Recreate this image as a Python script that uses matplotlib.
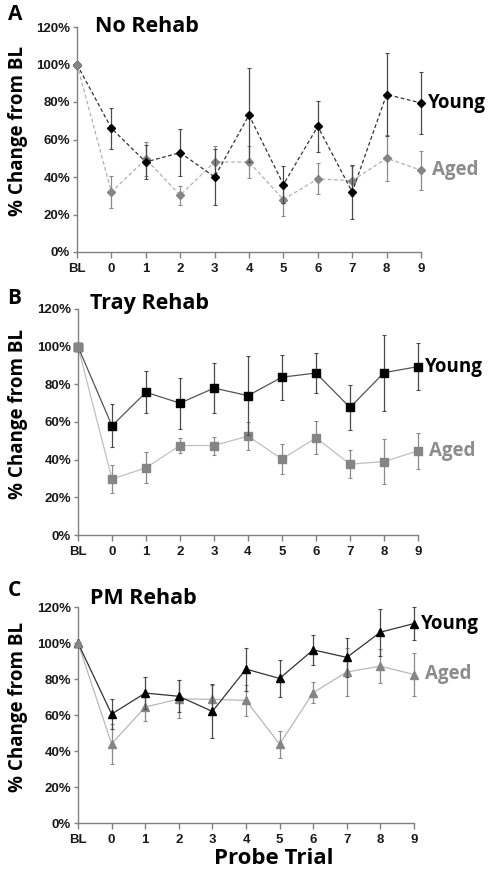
import matplotlib
matplotlib.use('Agg')
import matplotlib.pyplot as plt
from matplotlib.ticker import PercentFormatter

# Probe trials (BL = baseline)
trials = ['BL', '0', '1', '2', '3', '4', '5', '6', '7', '8', '9']

# A - No Rehab
no_young = [100, 66, 48, 53, 40, 73, 36, 67, 32, 84, 79.5]
no_young_err = [0, 11, 9, 12.5, 15, 25, 10, 13.7, 14.5, 22, 16.7]
no_aged = [100, 32, 49.5, 30.3, 48, 48, 28, 39, 38, 50, 43.6]
no_aged_err = [0, 8.5, 9, 5, 8.5, 8.5, 8.7, 8.3, 8, 12.3, 10.4]

# B - Tray Rehab
tray_young = [100, 58, 75.8, 70, 78, 74, 83.8, 86, 67.7, 86.2, 89.4]
tray_young_err = [0, 11.3, 11.2, 13.6, 13.4, 21, 12, 10.5, 11.8, 20.2, 12.4]
tray_aged = [100, 29.7, 35.7, 47.5, 47.5, 52.5, 40.3, 51.6, 37.6, 39, 44.7]
tray_aged_err = [0, 7.5, 8.2, 4, 4.8, 7.5, 8, 8.8, 7.5, 11.8, 9.4]

# C - PM Rehab
pm_young = [100, 60.5, 72.2, 70.4, 62, 85.5, 80.3, 96.2, 92, 106, 110.8]
pm_young_err = [0, 8.4, 9, 9, 15, 12, 10.3, 8.5, 11, 13, 9.2]
pm_aged = [100, 44, 64.4, 68.9, 68.7, 68.1, 43.8, 72.4, 83.9, 87.1, 82.5]
pm_aged_err = [0, 11, 7.6, 10.6, 8, 8.8, 7.5, 5.8, 13.5, 9.5, 12]

W, H = 494, 883
fig = plt.figure(figsize=(W / 100, H / 100), dpi=100)

tick_font = 'Liberation Sans'
head_font = 'Open Sans'

def px_axes(left, right, top, bottom):
    return fig.add_axes([left / W, 1 - bottom / H, (right - left) / W, (bottom - top) / H])

panels = [
    dict(box=(77, 421, 27, 252), letter='A', letter_xy=(15, 14), title='No Rehab', title_xy=(95, 27),
         young=no_young, young_err=no_young_err, aged=no_aged, aged_err=no_aged_err,
         marker='D', ms=4.5, ls=(0, (3, 2)), young_lc='#333333', aged_lc='#b0b0b0'),
    dict(box=(78, 418, 309, 535), letter='B', letter_xy=(14, 298), title='Tray Rehab', title_xy=(90, 303),
         young=tray_young, young_err=tray_young_err, aged=tray_aged, aged_err=tray_aged_err,
         marker='s', ms=6, ls='-', young_lc='#555555', aged_lc='#c0c0c0'),
    dict(box=(78, 414, 607, 823), letter='C', letter_xy=(14, 591), title='PM Rehab', title_xy=(90, 598),
         young=pm_young, young_err=pm_young_err, aged=pm_aged, aged_err=pm_aged_err,
         marker='^', ms=6, ls='-', young_lc='#333333', aged_lc='#b8b8b8'),
]

x = list(range(len(trials)))

for p in panels:
    ax = px_axes(*p['box'])
    # aged first, then young on top
    eb_aged = ax.errorbar(x, p['aged'], yerr=p['aged_err'], color=p['aged_lc'], ls=p['ls'], lw=0.9,
                          marker=p['marker'], ms=p['ms'], mfc='#858585', mec='#858585',
                          ecolor='#8a8a8a', elinewidth=0.9, capsize=1.6, capthick=0.8, zorder=2)
    eb_young = ax.errorbar(x, p['young'], yerr=p['young_err'], color=p['young_lc'], ls=p['ls'], lw=0.9,
                           marker=p['marker'], ms=p['ms'], mfc='black', mec='black',
                           ecolor='#4a4a4a', elinewidth=0.9, capsize=1.6, capthick=0.8, zorder=3)
    for eb in (eb_aged, eb_young):
        for art in eb.get_children():
            art.set_clip_on(False)
    # grey baseline point drawn over
    ax.plot(x[0], p['aged'][0], marker=p['marker'], ms=p['ms'], color='#858585', zorder=4, clip_on=False)

    ax.set_xlim(0, len(trials) - 1)
    ax.set_ylim(0, 120)
    ax.set_yticks(range(0, 121, 20))
    ax.yaxis.set_major_formatter(PercentFormatter(decimals=0))
    ax.set_xticks(x)
    ax.set_xticklabels(trials)
    for s in ['top', 'right']:
        ax.spines[s].set_visible(False)
    for s in ['left', 'bottom']:
        ax.spines[s].set_color('#808080')
        ax.spines[s].set_linewidth(1.0)
    ax.spines['bottom'].set_zorder(5)
    ax.tick_params(axis='x', direction='out', length=4, width=1, color='#808080', pad=4)
    ax.tick_params(axis='y', direction='out', length=3, width=1, color='#808080', pad=2)
    for lab in ax.get_xticklabels() + ax.get_yticklabels():
        lab.set_fontfamily(tick_font)
        lab.set_fontweight('bold')
        lab.set_fontsize(9.5)
        lab.set_color('#1a1a1a')

    # y label centred on the plot area
    box = p['box']
    fig.text(18 / W, 1 - ((box[2] + box[3]) / 2 - 8) / H, '% Change from BL', rotation=90,
             fontfamily=head_font, fontweight='bold', fontsize=13.5, ha='center', va='center')

    ax.annotate('Young', (x[-1], p['young'][-1]), xytext=(5, 0), textcoords='offset points',
                va='center', ha='left', fontfamily=head_font, fontweight='bold', fontsize=13.5,
                color='black', annotation_clip=False)
    ax.annotate('Aged', (x[-1], p['aged'][-1]), xytext=(8, 0), textcoords='offset points',
                va='center', ha='left', fontfamily=head_font, fontweight='bold', fontsize=13.5,
                color='#8c8c8c', annotation_clip=False)

    lx, ly = p['letter_xy']
    fig.text(lx / W, 1 - ly / H, p['letter'], fontfamily=head_font, fontweight='bold',
             fontsize=15, ha='center', va='center')
    tx, ty = p['title_xy']
    fig.text(tx / W, 1 - ty / H, p['title'], fontfamily=head_font, fontweight='bold',
             fontsize=15.5, ha='left', va='center')

fig.text(274 / W, 1 - 858 / H, 'Probe Trial', fontfamily=head_font, fontweight='bold',
         fontsize=16, ha='center', va='center')

fig.savefig('out.png', dpi=100)
